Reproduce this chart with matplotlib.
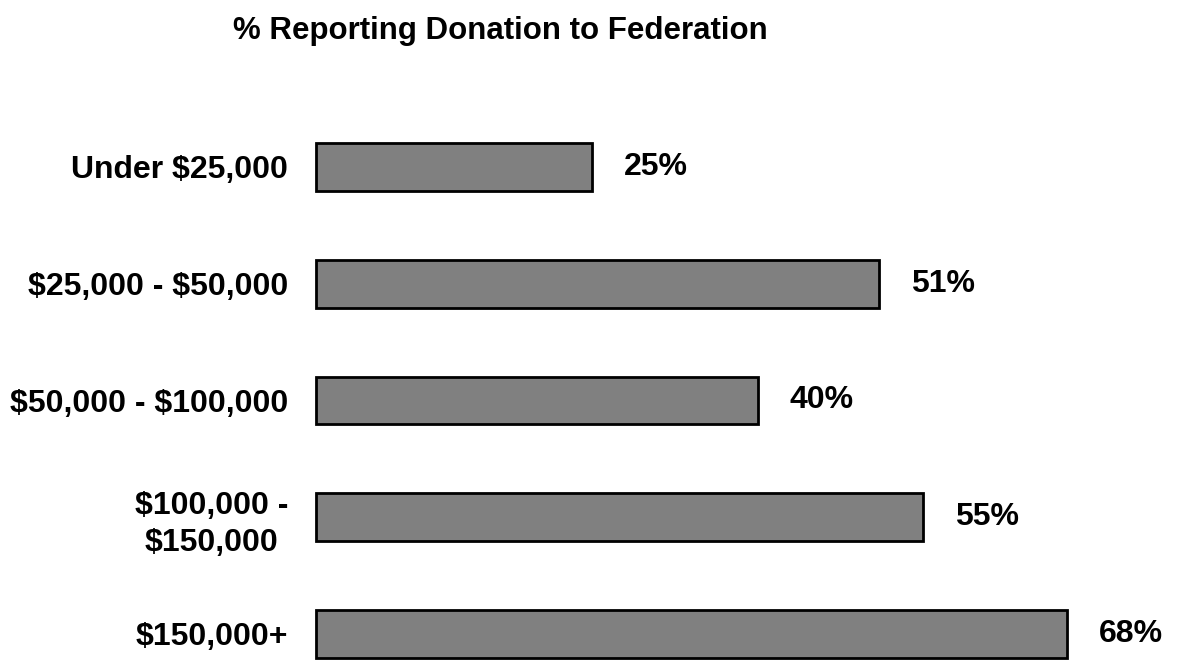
import matplotlib
matplotlib.use('Agg')
import matplotlib.pyplot as plt

categories = ['Under $25,000', '$25,000 - $50,000', '$50,000 - $100,000',
              '$100,000 -\n$150,000', '$150,000+']
values = [25, 51, 40, 55, 68]

plt.rcParams['font.family'] = ['Liberation Sans', 'DejaVu Sans']
plt.rcParams['font.weight'] = 'bold'
plt.rcParams['text.parse_math'] = False

fig = plt.figure(figsize=(11.8, 6.6), dpi=100)
ax = fig.add_axes([316 / 1180, 0, 864 / 1180, 550 / 660])

pos = list(range(len(categories)))
bars = ax.barh(pos, values, height=0.41, color='#808080', edgecolor='black', linewidth=2)
for b in bars:
    b.set_clip_on(False)

for p, v in zip(pos, values):
    ax.annotate(f'{v}%', xy=(v, p), xytext=(23, 0), textcoords='offset points',
                ha='left', va='center', fontsize=23, fontweight='bold')

ax.set_xlim(0, 864 / 11.04)
ax.set_ylim(4.223, -0.488)
ax.set_yticks(pos)
ax.set_yticklabels(categories, fontsize=23, fontweight='bold', ha='right',
                   multialignment='center', linespacing=1.3)
ax.tick_params(axis='y', length=0, pad=20)
ax.set_xticks([])
for s in ax.spines.values():
    s.set_visible(False)

fig.text(500 / 1180, 1 - 31 / 660, '% Reporting Donation to Federation',
         ha='center', va='center', fontsize=22.5, fontweight='bold')

fig.savefig('out.png', dpi=100)
